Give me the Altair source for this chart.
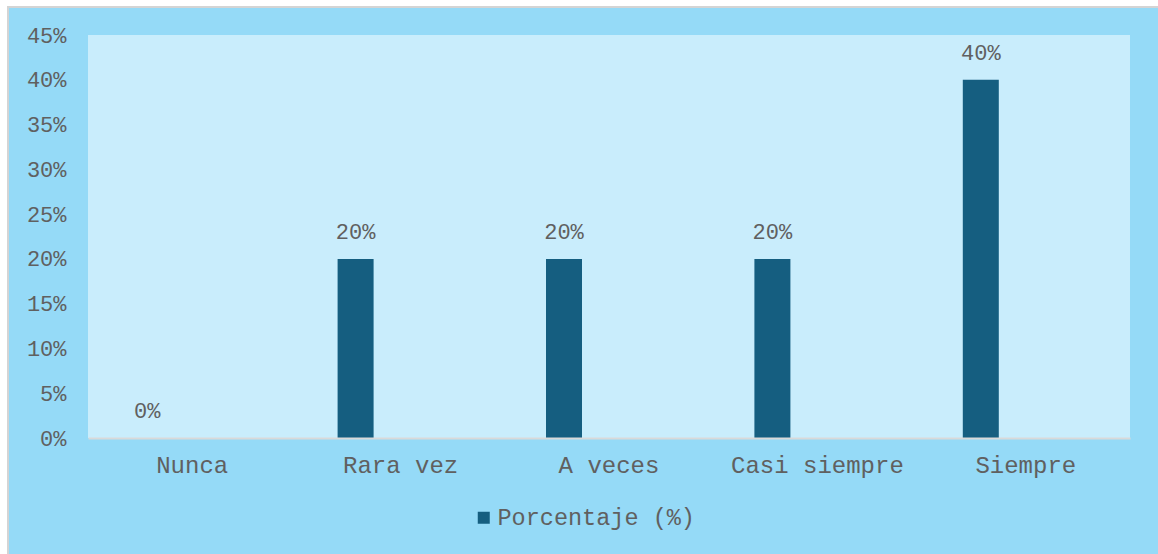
import altair as alt
import pandas as pd

categories = ["Nunca", "Rara vez", "A veces", "Casi siempre", "Siempre"]
values = [0.0, 0.20, 0.20, 0.20, 0.40]
labels = ["0%", "20%", "20%", "20%", "40%"]
series = "Porcentaje (%)"

df = pd.DataFrame({"cat": categories, "val": values, "lab": labels, "serie": [series] * 5})

W, H = 1042, 403
FONT = "Liberation Mono"
TXT = "#606060"
BAR = "#155E80"

x = alt.X("cat:N", sort=categories, title=None,
          scale=alt.Scale(paddingInner=0, paddingOuter=0),
          axis=alt.Axis(labelAngle=0, labelFont=FONT, labelFontSize=24, labelColor=TXT,
                        ticks=False, domainColor="#D9D9D9", domainWidth=2, labelPadding=15,
                        grid=False, zindex=2))
y = alt.Y("val:Q", title=None,
          scale=alt.Scale(domain=[0, 0.45], nice=False),
          axis=alt.Axis(format=".0%", values=[i * 0.05 for i in range(10)], labelFont=FONT,
                        labelFontSize=22, labelColor=TXT, ticks=False, domain=False,
                        grid=False, labelPadding=22, zindex=2))

frame = alt.Chart(df).mark_rect(fill="#95DAF7", stroke="#D4D4D4", strokeWidth=2, clip=False).encode(
    x=alt.value(-80), x2=alt.value(1075), y=alt.value(-28), y2=alt.value(H + 120))
plotbg = alt.Chart(df).mark_rect(fill="#C9EDFC").encode(
    x=alt.value(0), x2=alt.value(W), y=alt.value(0), y2=alt.value(H))

bars = alt.Chart(df).mark_bar(width=36, xOffset=-45).encode(
    x=x, y=y,
    color=alt.Color("serie:N", scale=alt.Scale(range=[BAR]), title=None,
                    legend=alt.Legend(orient="none", legendX=384, legendY=471,
                                      symbolType="square", symbolSize=144,
                                      symbolStrokeWidth=0, labelFont=FONT,
                                      labelFontSize=23.5, labelColor=TXT, labelOffset=2,
                                      labelLimit=0, zindex=2)))

text = alt.Chart(df).mark_text(xOffset=-45, dy=-15, baseline="bottom", font=FONT,
                               fontSize=22, color=TXT).encode(
    x=alt.X("cat:N", sort=categories), y="val:Q", text="lab:N")

chart = alt.layer(frame, plotbg, bars, text).properties(
    width=W, height=H, background="white",
    padding={"left": 88, "top": 35, "right": 28, "bottom": 116},
    autosize=alt.AutoSizeParams(type="none"),
).configure_view(stroke=None)

chart.save("out.html", embed_options={"renderer": "svg", "actions": False})
